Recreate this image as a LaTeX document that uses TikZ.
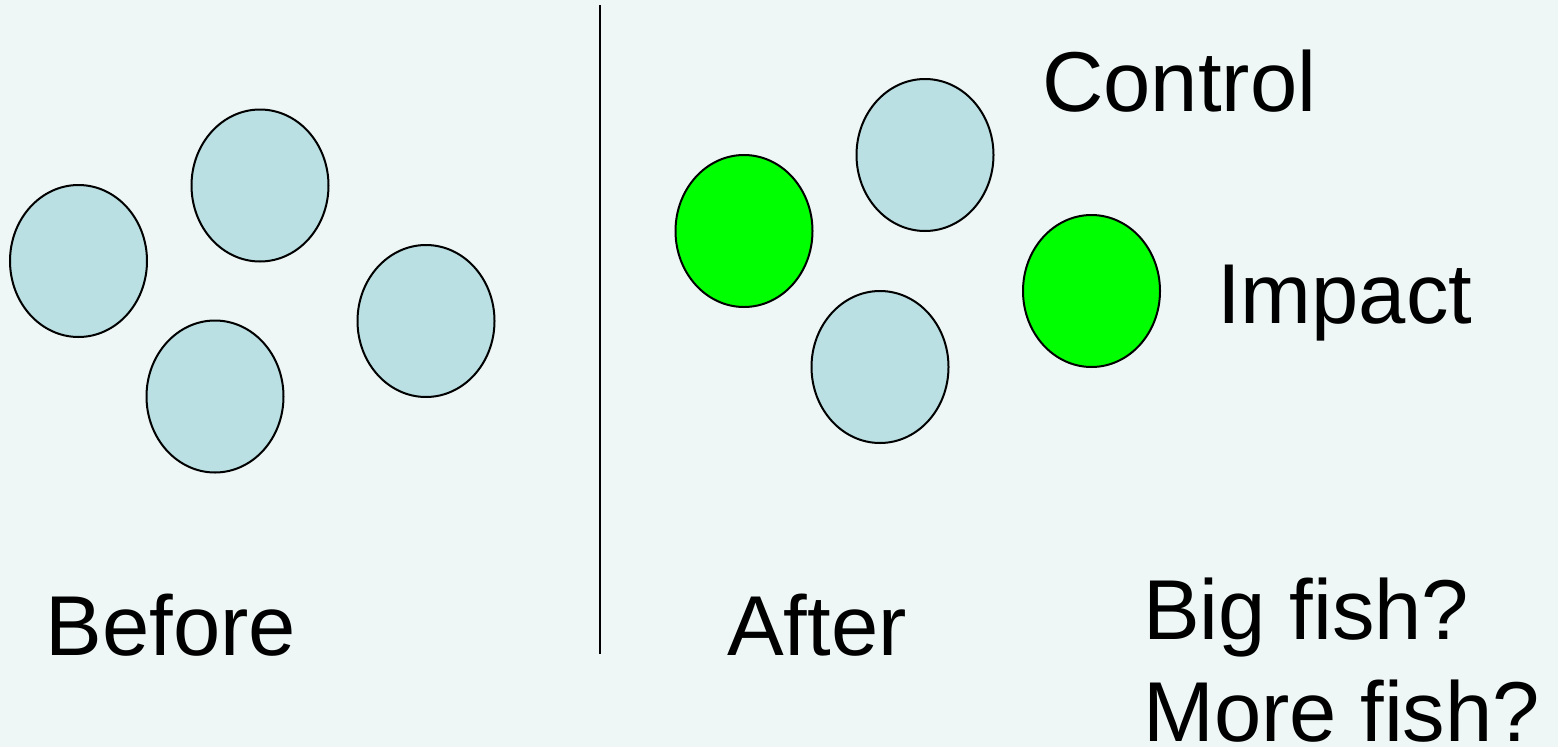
\documentclass[tikz,border=0pt]{standalone}
\usepackage{fontspec}
\setmainfont{Liberation Sans}
\usetikzlibrary{shapes.geometric}
\definecolor{bgpale}{RGB}{238,247,246}
\definecolor{fishblue}{RGB}{186,224,227}
\definecolor{fishgreen}{RGB}{0,255,0}
\tikzset{
  fishbase/.style={ellipse, draw=black, line width=2pt, inner sep=0pt,
                   minimum width=137pt, minimum height=152pt},
  ctrl/.style={fishbase, fill=fishblue},
  imp/.style={fishbase, fill=fishgreen},
  label/.style={inner sep=0pt, anchor=base west, align=left,
                font=\fontsize{85}{102}\selectfont}
}
\begin{document}
\begin{tikzpicture}[x=1pt,y=-1pt]
  % canvas
  \fill[bgpale] (0,0) rectangle (1558,747);
  \useasboundingbox (0,0) rectangle (1558,747);

  % before: four fish
  \node[ctrl] (b1) at (78.5,261) {};
  \node[ctrl] (b2) at (260,185.5) {};
  \node[ctrl] (b3) at (215,396.5) {};
  \node[ctrl] (b4) at (426,321) {};

  % divider
  \coordinate (top) at (600,5);
  \coordinate (bottom) at (600,654);
  \draw[line width=2pt] (top) -- (bottom);

  % after: control and impact fish
  \node[imp]  (a1) at (744,231) {};
  \node[ctrl] (a2) at (925,155) {};
  \node[ctrl] (a3) at (880,367) {};
  \node[imp]  (a4) at (1091.5,291) {};

  % labels (the two-line node is anchored on its last baseline)
  \node[label] (before) at (45.5,655) {Before};
  \node[label] (after) at (727,655) {After};
  \node[label] (control) at (1042,111) {Control};
  \node[label] (impact) at (1217,323) {Impact};
  \node[label] (question) at (1143,741) {Big fish?\\More fish?};
\end{tikzpicture}
\end{document}
